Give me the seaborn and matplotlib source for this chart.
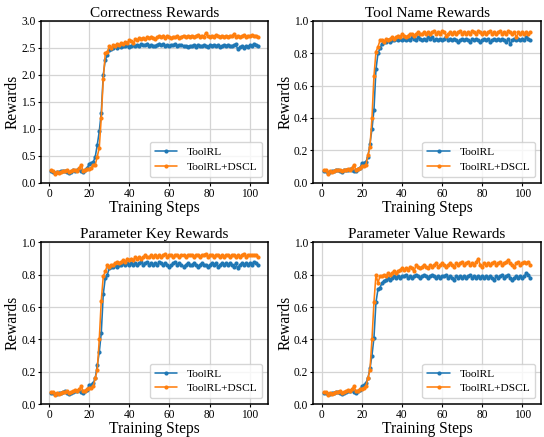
import matplotlib
matplotlib.use("Agg")
import matplotlib.pyplot as plt
import seaborn as sns
import pandas as pd

steps = list(range(1, 105))

corr_toolrl = [
    0.21, 0.20, 0.17, 0.19, 0.20, 0.21, 0.22, 0.21, 0.19, 0.18,
    0.20, 0.23, 0.21, 0.24, 0.25, 0.21, 0.20, 0.24, 0.27, 0.35,
    0.36, 0.38, 0.48, 0.70, 0.95, 1.30, 2.00, 2.28, 2.36, 2.46,
    2.48, 2.50, 2.53, 2.49, 2.53, 2.52, 2.54, 2.53, 2.55, 2.52,
    2.54, 2.56, 2.53, 2.55, 2.54, 2.57, 2.55, 2.56, 2.58, 2.54,
    2.55, 2.53, 2.54, 2.56, 2.58, 2.55, 2.57, 2.54, 2.55, 2.53,
    2.56, 2.55, 2.57, 2.54, 2.55, 2.56, 2.53, 2.54, 2.52, 2.54,
    2.53, 2.55, 2.52, 2.56, 2.54, 2.53, 2.55, 2.54, 2.52, 2.55,
    2.54, 2.56, 2.53, 2.55, 2.52, 2.54, 2.55, 2.53, 2.56, 2.54,
    2.53, 2.55, 2.57, 2.48, 2.51, 2.53, 2.50, 2.54, 2.52, 2.55,
    2.53, 2.58, 2.56, 2.53]
corr_dscl = [
    0.23, 0.22, 0.16, 0.19, 0.18, 0.20, 0.21, 0.22, 0.23, 0.20,
    0.21, 0.23, 0.24, 0.22, 0.27, 0.33, 0.22, 0.23, 0.26, 0.25,
    0.28, 0.32, 0.33, 0.48, 0.65, 1.20, 1.93, 2.40, 2.42, 2.53,
    2.50, 2.55, 2.53, 2.57, 2.55, 2.59, 2.57, 2.61, 2.60, 2.64,
    2.62, 2.60, 2.66, 2.64, 2.69, 2.67, 2.68, 2.66, 2.70, 2.68,
    2.71, 2.69, 2.67, 2.70, 2.72, 2.70, 2.73, 2.69, 2.72, 2.71,
    2.68, 2.71, 2.70, 2.72, 2.69, 2.71, 2.73, 2.70, 2.72, 2.71,
    2.73, 2.70, 2.72, 2.74, 2.71, 2.73, 2.70, 2.77, 2.72, 2.70,
    2.73, 2.71, 2.74, 2.72, 2.70, 2.73, 2.71, 2.72, 2.70, 2.73,
    2.72, 2.75, 2.71, 2.73, 2.70, 2.72, 2.74, 2.71, 2.73, 2.72,
    2.74, 2.72, 2.73, 2.71]

name_toolrl = [
    0.07, 0.07, 0.06, 0.065, 0.07, 0.07, 0.075, 0.08, 0.07, 0.065,
    0.075, 0.08, 0.08, 0.085, 0.08, 0.07, 0.07, 0.085, 0.09, 0.12,
    0.12, 0.13, 0.16, 0.24, 0.33, 0.45, 0.70, 0.80, 0.83, 0.86,
    0.87, 0.87, 0.88, 0.87, 0.88, 0.88, 0.89, 0.88, 0.89, 0.88,
    0.89, 0.88, 0.89, 0.88, 0.90, 0.89, 0.88, 0.90, 0.89, 0.88,
    0.89, 0.88, 0.90, 0.89, 0.90, 0.88, 0.89, 0.88, 0.89, 0.88,
    0.89, 0.90, 0.88, 0.89, 0.88, 0.89, 0.88, 0.87, 0.88, 0.89,
    0.88, 0.89, 0.88, 0.87, 0.89, 0.88, 0.89, 0.88, 0.87, 0.88,
    0.89, 0.88, 0.89, 0.87, 0.88, 0.89, 0.88, 0.89, 0.88, 0.89,
    0.88, 0.87, 0.89, 0.86, 0.88, 0.89, 0.88, 0.89, 0.88, 0.89,
    0.88, 0.90, 0.89, 0.88]
name_dscl = [
    0.08, 0.075, 0.055, 0.07, 0.065, 0.07, 0.08, 0.075, 0.08, 0.07,
    0.075, 0.08, 0.085, 0.08, 0.09, 0.11, 0.08, 0.085, 0.09, 0.10,
    0.10, 0.11, 0.17, 0.22, 0.40, 0.66, 0.81, 0.84, 0.88, 0.88,
    0.87, 0.89, 0.88, 0.89, 0.90, 0.89, 0.90, 0.91, 0.90, 0.92,
    0.91, 0.90, 0.91, 0.92, 0.92, 0.91, 0.92, 0.93, 0.92, 0.92,
    0.93, 0.92, 0.93, 0.92, 0.93, 0.94, 0.92, 0.93, 0.92, 0.94,
    0.93, 0.91, 0.92, 0.93, 0.92, 0.93, 0.92, 0.93, 0.94, 0.92,
    0.93, 0.92, 0.93, 0.92, 0.94, 0.93, 0.92, 0.94, 0.93, 0.92,
    0.93, 0.92, 0.93, 0.94, 0.92, 0.93, 0.92, 0.93, 0.94, 0.92,
    0.93, 0.92, 0.94, 0.93, 0.92, 0.93, 0.90, 0.93, 0.92, 0.93,
    0.92, 0.93, 0.92, 0.93]

key_toolrl = [
    0.07, 0.07, 0.06, 0.065, 0.07, 0.07, 0.075, 0.08, 0.07, 0.065,
    0.07, 0.075, 0.08, 0.08, 0.085, 0.075, 0.07, 0.08, 0.085, 0.12,
    0.12, 0.13, 0.16, 0.24, 0.32, 0.44, 0.68, 0.78, 0.80, 0.84,
    0.85, 0.85, 0.86, 0.85, 0.86, 0.86, 0.87, 0.86, 0.87, 0.86,
    0.87, 0.86, 0.87, 0.86, 0.87, 0.88, 0.86, 0.87, 0.88, 0.86,
    0.87, 0.86, 0.87, 0.86, 0.88, 0.87, 0.86, 0.87, 0.86, 0.85,
    0.86, 0.87, 0.88, 0.86, 0.87, 0.86, 0.85, 0.86, 0.87, 0.86,
    0.86, 0.87, 0.86, 0.85, 0.86, 0.87, 0.86, 0.86, 0.85, 0.86,
    0.87, 0.86, 0.87, 0.85, 0.86, 0.87, 0.86, 0.87, 0.86, 0.87,
    0.86, 0.85, 0.87, 0.84, 0.86, 0.87, 0.86, 0.87, 0.86, 0.87,
    0.86, 0.88, 0.87, 0.86]
key_dscl = [
    0.075, 0.075, 0.055, 0.07, 0.065, 0.07, 0.075, 0.075, 0.08, 0.07,
    0.075, 0.08, 0.085, 0.08, 0.09, 0.11, 0.08, 0.08, 0.09, 0.10,
    0.10, 0.11, 0.16, 0.21, 0.40, 0.64, 0.79, 0.82, 0.86, 0.85,
    0.86, 0.86, 0.87, 0.88, 0.87, 0.88, 0.89, 0.88, 0.90, 0.89,
    0.90, 0.89, 0.91, 0.90, 0.91, 0.90, 0.91, 0.92, 0.91, 0.91,
    0.92, 0.91, 0.92, 0.91, 0.92, 0.91, 0.92, 0.93, 0.91, 0.92,
    0.92, 0.91, 0.92, 0.92, 0.91, 0.92, 0.92, 0.91, 0.92, 0.92,
    0.92, 0.91, 0.92, 0.92, 0.91, 0.92, 0.92, 0.93, 0.91, 0.92,
    0.92, 0.91, 0.92, 0.92, 0.91, 0.92, 0.91, 0.92, 0.92, 0.91,
    0.92, 0.92, 0.91, 0.92, 0.91, 0.92, 0.93, 0.91, 0.92, 0.92,
    0.92, 0.92, 0.92, 0.91]

value_toolrl = [
    0.07, 0.07, 0.06, 0.065, 0.07, 0.07, 0.075, 0.075, 0.07, 0.065,
    0.07, 0.075, 0.08, 0.08, 0.085, 0.075, 0.07, 0.08, 0.085, 0.11,
    0.115, 0.13, 0.16, 0.22, 0.30, 0.41, 0.63, 0.71, 0.72, 0.75,
    0.76, 0.77, 0.78, 0.77, 0.78, 0.79, 0.78, 0.79, 0.78, 0.79,
    0.79, 0.80, 0.78, 0.79, 0.78, 0.79, 0.80, 0.79, 0.78, 0.79,
    0.80, 0.79, 0.78, 0.79, 0.80, 0.79, 0.78, 0.79, 0.78, 0.79,
    0.79, 0.80, 0.78, 0.79, 0.78, 0.77, 0.79, 0.78, 0.79, 0.78,
    0.79, 0.78, 0.79, 0.80, 0.78, 0.79, 0.78, 0.79, 0.78, 0.79,
    0.78, 0.79, 0.78, 0.79, 0.78, 0.77, 0.79, 0.78, 0.79, 0.80,
    0.78, 0.79, 0.80, 0.78, 0.77, 0.78, 0.79, 0.78, 0.79, 0.78,
    0.79, 0.81, 0.80, 0.78]
value_dscl = [
    0.075, 0.075, 0.055, 0.07, 0.065, 0.07, 0.075, 0.075, 0.08, 0.07,
    0.075, 0.08, 0.085, 0.08, 0.09, 0.11, 0.08, 0.08, 0.09, 0.095,
    0.10, 0.11, 0.16, 0.21, 0.40, 0.63, 0.80, 0.75, 0.79, 0.79,
    0.80, 0.79, 0.81, 0.80, 0.81, 0.82, 0.81, 0.82, 0.83, 0.84,
    0.83, 0.84, 0.83, 0.85, 0.84, 0.82, 0.86, 0.85, 0.84, 0.85,
    0.86, 0.85, 0.84, 0.86, 0.85, 0.86, 0.87, 0.85, 0.86, 0.87,
    0.86, 0.85, 0.86, 0.87, 0.86, 0.85, 0.87, 0.86, 0.87, 0.88,
    0.86, 0.87, 0.88, 0.86, 0.87, 0.86, 0.88, 0.90, 0.86, 0.85,
    0.87, 0.86, 0.87, 0.86, 0.87, 0.88, 0.86, 0.87, 0.88, 0.86,
    0.87, 0.88, 0.89, 0.87, 0.86, 0.85, 0.87, 0.88, 0.86, 0.87,
    0.88, 0.87, 0.88, 0.86]

titles = ["Correctness Rewards", "Tool Name Rewards",
          "Parameter Key Rewards", "Parameter Value Rewards"]
series = [(corr_toolrl, corr_dscl), (name_toolrl, name_dscl),
          (key_toolrl, key_dscl), (value_toolrl, value_dscl)]
ylims = [(0, 3.0), (0, 1.0), (0, 1.0), (0, 1.0)]
labels = ["ToolRL", "ToolRL+DSCL"]
colors = ["#1f77b4", "#ff7f0e"]

sns.set_theme(style="whitegrid", rc={
    "axes.edgecolor": "black",
    "axes.linewidth": 1.1,
    "grid.color": "#d4d4d4",
    "grid.linewidth": 0.9,
    "xtick.bottom": True,
    "ytick.left": True,
    "xtick.major.size": 2.5,
    "ytick.major.size": 2.5,
    "xtick.color": "black",
    "ytick.color": "black",
    "text.color": "black",
    "axes.labelcolor": "black",
})
plt.rcParams["font.family"] = ["Liberation Serif", "DejaVu Serif"]

fig, axes = plt.subplots(2, 2, figsize=(5.44, 4.37), dpi=100)
fig.subplots_adjust(left=0.075, right=0.994, top=0.952, bottom=0.0755,
                    wspace=0.2, hspace=0.37)

for ax, title, (a, b), ylim in zip(axes.flat, titles, series, ylims):
    df = pd.DataFrame({
        "step": steps + steps,
        "reward": a + b,
        "method": [labels[0]] * len(steps) + [labels[1]] * len(steps),
    })
    sns.lineplot(data=df, x="step", y="reward", hue="method",
                 palette=colors, marker="o", markersize=3.0,
                 markeredgewidth=0, linewidth=1.15, ax=ax)
    ax.set_ylim(*ylim)
    ax.set_xticks([0, 20, 40, 60, 80, 100])
    if ylim[1] == 3.0:
        ax.set_yticks([0, 0.5, 1.0, 1.5, 2.0, 2.5, 3.0])
    else:
        ax.set_yticks([0, 0.2, 0.4, 0.6, 0.8, 1.0])
    ax.yaxis.set_major_formatter(matplotlib.ticker.FormatStrFormatter("%.1f"))
    ax.set_title(title, fontsize=11, pad=3)
    ax.set_xlabel("Training Steps", fontsize=11.2, labelpad=0)
    ax.set_ylabel("Rewards", fontsize=11.2, labelpad=0.5)
    ax.tick_params(axis="both", labelsize=8.3, pad=1.2, width=0.8)
    leg = ax.legend(loc="lower right", fontsize=8.2, frameon=True,
                    borderpad=0.45, handlelength=2.0, labelspacing=0.4,
                    borderaxespad=0.5)
    leg.get_frame().set_edgecolor("#cccccc")
    for sp in ax.spines.values():
        sp.set_color("black")

fig.savefig("out.png", dpi=100)
